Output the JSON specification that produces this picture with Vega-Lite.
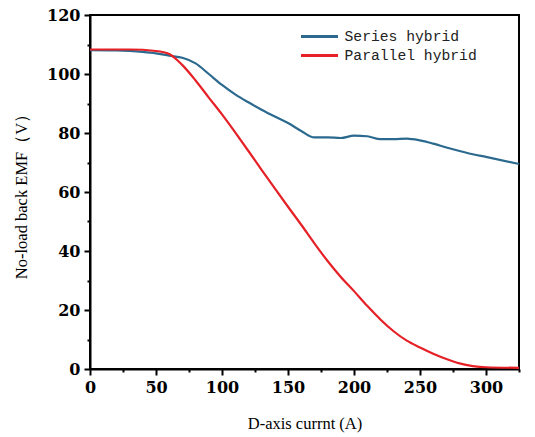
{
  "$schema": "https://vega.github.io/schema/vega-lite/v6.json",
  "width": 429,
  "height": 354,
  "autosize": "none",
  "padding": {"left": 90, "top": 15, "right": 16, "bottom": 68},
  "background": "white",
  "config": {
    "view": {"stroke": "black", "strokeWidth": 2},
    "axis": {
      "domainColor": "black",
      "domainWidth": 2,
      "tickColor": "black",
      "tickWidth": 2,
      "grid": false,
      "labelColor": "black",
      "labelPadding": 4,
      "titleColor": "black"
    }
  },
  "data": {
    "values": [
      {"x": 0, "y": 108.1, "s": "Series hybrid"},
      {"x": 20, "y": 108.0, "s": "Series hybrid"},
      {"x": 40, "y": 107.5, "s": "Series hybrid"},
      {"x": 50, "y": 107.0, "s": "Series hybrid"},
      {"x": 60, "y": 106.2, "s": "Series hybrid"},
      {"x": 70, "y": 105.5, "s": "Series hybrid"},
      {"x": 80, "y": 103.6, "s": "Series hybrid"},
      {"x": 90, "y": 100.0, "s": "Series hybrid"},
      {"x": 100, "y": 96.3, "s": "Series hybrid"},
      {"x": 110, "y": 93.1, "s": "Series hybrid"},
      {"x": 120, "y": 90.4, "s": "Series hybrid"},
      {"x": 130, "y": 87.9, "s": "Series hybrid"},
      {"x": 140, "y": 85.6, "s": "Series hybrid"},
      {"x": 150, "y": 83.4, "s": "Series hybrid"},
      {"x": 160, "y": 80.7, "s": "Series hybrid"},
      {"x": 170, "y": 78.5, "s": "Series hybrid"},
      {"x": 180, "y": 78.5, "s": "Series hybrid"},
      {"x": 190, "y": 78.3, "s": "Series hybrid"},
      {"x": 200, "y": 79.1, "s": "Series hybrid"},
      {"x": 210, "y": 78.9, "s": "Series hybrid"},
      {"x": 220, "y": 77.9, "s": "Series hybrid"},
      {"x": 230, "y": 77.9, "s": "Series hybrid"},
      {"x": 240, "y": 78.1, "s": "Series hybrid"},
      {"x": 250, "y": 77.5, "s": "Series hybrid"},
      {"x": 260, "y": 76.4, "s": "Series hybrid"},
      {"x": 270, "y": 75.1, "s": "Series hybrid"},
      {"x": 280, "y": 73.9, "s": "Series hybrid"},
      {"x": 290, "y": 72.8, "s": "Series hybrid"},
      {"x": 300, "y": 71.9, "s": "Series hybrid"},
      {"x": 325, "y": 69.5, "s": "Series hybrid"},
      {"x": 0, "y": 108.3, "s": "Parallel hybrid"},
      {"x": 30, "y": 108.3, "s": "Parallel hybrid"},
      {"x": 50, "y": 107.8, "s": "Parallel hybrid"},
      {"x": 60, "y": 106.8, "s": "Parallel hybrid"},
      {"x": 70, "y": 103.0, "s": "Parallel hybrid"},
      {"x": 80, "y": 97.8, "s": "Parallel hybrid"},
      {"x": 90, "y": 92.0, "s": "Parallel hybrid"},
      {"x": 100, "y": 86.3, "s": "Parallel hybrid"},
      {"x": 110, "y": 80.2, "s": "Parallel hybrid"},
      {"x": 120, "y": 73.9, "s": "Parallel hybrid"},
      {"x": 130, "y": 67.5, "s": "Parallel hybrid"},
      {"x": 140, "y": 61.2, "s": "Parallel hybrid"},
      {"x": 150, "y": 55.0, "s": "Parallel hybrid"},
      {"x": 160, "y": 48.9, "s": "Parallel hybrid"},
      {"x": 170, "y": 42.6, "s": "Parallel hybrid"},
      {"x": 180, "y": 36.6, "s": "Parallel hybrid"},
      {"x": 190, "y": 31.2, "s": "Parallel hybrid"},
      {"x": 200, "y": 26.4, "s": "Parallel hybrid"},
      {"x": 210, "y": 21.4, "s": "Parallel hybrid"},
      {"x": 220, "y": 16.8, "s": "Parallel hybrid"},
      {"x": 230, "y": 12.8, "s": "Parallel hybrid"},
      {"x": 240, "y": 9.6, "s": "Parallel hybrid"},
      {"x": 250, "y": 7.3, "s": "Parallel hybrid"},
      {"x": 260, "y": 5.2, "s": "Parallel hybrid"},
      {"x": 270, "y": 3.4, "s": "Parallel hybrid"},
      {"x": 280, "y": 1.9, "s": "Parallel hybrid"},
      {"x": 290, "y": 1.0, "s": "Parallel hybrid"},
      {"x": 300, "y": 0.6, "s": "Parallel hybrid"},
      {"x": 325, "y": 0.4, "s": "Parallel hybrid"}
    ]
  },
  "mark": {"type": "line", "strokeWidth": 2.2, "interpolate": "monotone"},
  "encoding": {
    "x": {
      "field": "x",
      "type": "quantitative",
      "scale": {"domain": [0, 325], "nice": false, "zero": false},
      "axis": {
        "title": "D-axis currnt (A)",
        "values": [0, 25, 50, 75, 100, 125, 150, 175, 200, 225, 250, 275, 300, 325],
        "labelExpr": "datum.value % 50 === 0 ? datum.label : ''",
        "tickSize": {"condition": {"test": "datum.value % 50 === 0", "value": 6}, "value": 3},
        "labelFlush": false,
        "labelFont": "DejaVu Serif",
        "labelFontWeight": "bold",
        "labelFontSize": 16,
        "titleFont": "Liberation Serif",
        "titleFontWeight": "normal",
        "titleFontSize": 16.5,
        "titlePadding": 20
      }
    },
    "y": {
      "field": "y",
      "type": "quantitative",
      "scale": {"domain": [0, 120], "nice": false},
      "axis": {
        "title": "No-load back EMF（V）",
        "values": [0, 10, 20, 30, 40, 50, 60, 70, 80, 90, 100, 110, 120],
        "labelExpr": "datum.value % 20 === 0 ? datum.label : ''",
        "tickSize": {"condition": {"test": "datum.value % 20 === 0", "value": 6}, "value": 3},
        "labelFont": "DejaVu Serif",
        "labelFontWeight": "bold",
        "labelFontSize": 16,
        "titleFont": "Liberation Serif",
        "titleFontWeight": "normal",
        "titleFontSize": 16.5,
        "titlePadding": 17
      }
    },
    "color": {
      "field": "s",
      "type": "nominal",
      "scale": {"domain": ["Series hybrid", "Parallel hybrid"], "range": ["#2b6a8e", "#e52127"]},
      "legend": {
        "title": null,
        "orient": "none",
        "legendX": 218,
        "legendY": 10,
        "symbolType": "M-1.85,0H1.85",
        "symbolSize": 400,
        "symbolStrokeWidth": 3,
        "labelFont": "Liberation Mono",
        "labelFontSize": 14.7,
        "labelColor": "#222222",
        "labelOffset": 13.5,
        "rowPadding": 0
      }
    }
  }
}
